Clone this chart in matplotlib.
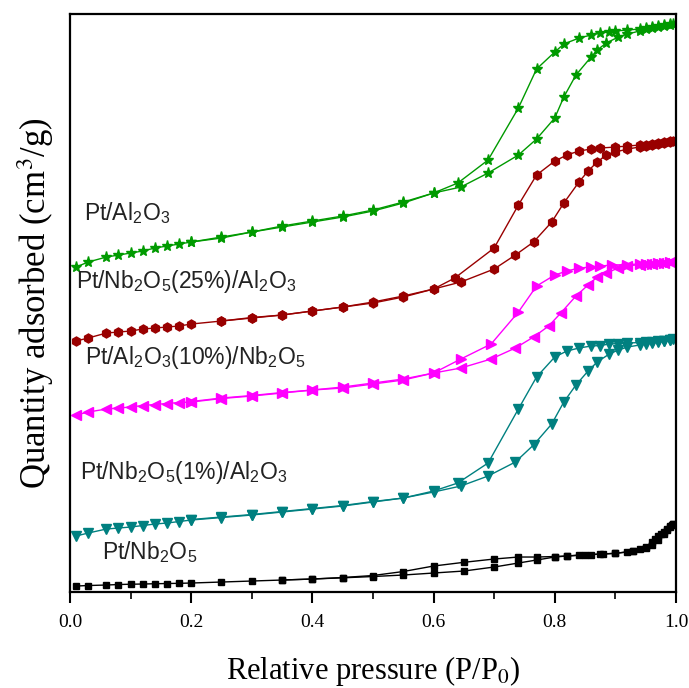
import matplotlib
matplotlib.use("Agg")
import matplotlib.pyplot as plt
from matplotlib.ticker import MultipleLocator

plt.rcParams['mathtext.fontset'] = 'custom'
plt.rcParams['mathtext.rm'] = 'Liberation Sans'
plt.rcParams['mathtext.it'] = 'Liberation Sans'

# relative pressure / quantity adsorbed (curves offset, arbitrary units)
green_ads_p = [0.01, 0.03, 0.06, 0.08, 0.10, 0.12, 0.14, 0.16, 0.18, 0.20, 0.25, 0.30, 0.35,
               0.40, 0.45, 0.50, 0.55, 0.60, 0.645, 0.69, 0.74, 0.77, 0.80, 0.815, 0.835,
               0.86, 0.87, 0.885, 0.905, 0.92, 0.94, 0.95, 0.96, 0.97, 0.98, 0.99, 0.995]
green_ads_q = [325, 330, 335, 337, 339, 341, 344, 346, 348, 350, 354, 360, 365,
               370, 375, 381, 389, 399, 405, 419, 437, 453, 474, 495, 517,
               535, 542, 549, 555, 558, 561, 563, 564, 565, 566, 567, 568]
green_des_p = [0.99, 0.98, 0.97, 0.96, 0.95, 0.94, 0.92, 0.90, 0.89, 0.875, 0.86, 0.84, 0.815,
               0.80, 0.77, 0.74, 0.69, 0.64, 0.60, 0.55, 0.50, 0.45, 0.40, 0.35, 0.30, 0.25, 0.20]
green_des_q = [568, 567, 566, 565, 564, 563, 562, 561, 560, 559, 557, 554, 548,
               540, 523, 484, 432, 409, 399, 390, 382, 376, 371, 366, 360, 355, 350]

red_ads_p = [0.01, 0.03, 0.06, 0.08, 0.10, 0.12, 0.14, 0.16, 0.18, 0.20, 0.25, 0.30, 0.35,
             0.40, 0.45, 0.50, 0.55, 0.60, 0.645, 0.70, 0.735, 0.765, 0.795, 0.815, 0.84,
             0.855, 0.87, 0.885, 0.90, 0.92, 0.94, 0.95, 0.96, 0.97, 0.98, 0.99, 0.995]
red_ads_q = [251, 254, 259, 260, 261, 263, 264, 265, 266, 268, 271, 274, 277,
             281, 285, 289, 295, 303, 310, 323, 337, 350, 370, 389, 410,
             421, 430, 437, 440, 443, 445, 446, 447, 448, 449, 450, 451]
red_des_p = [0.99, 0.98, 0.97, 0.96, 0.95, 0.94, 0.92, 0.90, 0.875, 0.86, 0.84, 0.82, 0.80,
             0.77, 0.74, 0.70, 0.635, 0.60, 0.55, 0.50, 0.45, 0.40, 0.35, 0.30, 0.25]
red_des_q = [451, 450, 449, 448, 447.5, 447, 446, 445, 444, 443, 441, 437, 431,
             417, 387, 344, 314, 303, 296, 290, 285, 281, 277, 274.5, 271]

mag_ads_p = [0.01, 0.03, 0.06, 0.08, 0.10, 0.12, 0.14, 0.16, 0.18, 0.20, 0.25, 0.30, 0.35,
             0.40, 0.45, 0.50, 0.55, 0.60, 0.645, 0.695, 0.735, 0.765, 0.79, 0.81, 0.835,
             0.855, 0.87, 0.885, 0.905, 0.92, 0.94, 0.95, 0.96, 0.97, 0.98, 0.99, 0.995]
mag_ads_q = [177, 180, 183, 184, 185, 186.5, 187.5, 188.5, 189.5, 190, 193.5, 196, 199,
             202, 204, 208, 212, 219, 224, 233, 244, 255, 266, 279, 296,
             307, 315, 319, 324, 326, 327.5, 328, 328.5, 329, 329.5, 330, 330.5]
mag_des_p = [0.99, 0.98, 0.97, 0.96, 0.95, 0.94, 0.92, 0.895, 0.875, 0.86, 0.84, 0.82, 0.80,
             0.77, 0.74, 0.695, 0.645, 0.60, 0.55, 0.50, 0.45, 0.40, 0.35, 0.30, 0.25, 0.20]
mag_des_q = [330, 329.5, 329, 328.5, 328, 328, 327.5, 327, 326, 325, 324, 321, 317,
             306, 280, 248, 233, 219, 213, 209, 205, 202, 199.5, 196.5, 194, 190.5]

teal_ads_p = [0.01, 0.03, 0.06, 0.08, 0.10, 0.12, 0.14, 0.16, 0.18, 0.20, 0.25, 0.30, 0.35,
              0.40, 0.45, 0.50, 0.55, 0.60, 0.645, 0.69, 0.735, 0.765, 0.795, 0.815, 0.835,
              0.855, 0.87, 0.89, 0.905, 0.92, 0.94, 0.95, 0.96, 0.97, 0.98, 0.99, 0.995]
teal_ads_q = [56, 59, 63, 64, 65, 66.5, 68, 69, 70.5, 72, 74.5, 77, 80,
              83, 86, 90, 94, 100, 106, 116, 130, 147, 168, 190, 207,
              221, 230, 238, 242, 245, 247, 248, 249, 250, 251, 252, 253]
teal_des_p = [0.99, 0.98, 0.97, 0.96, 0.95, 0.94, 0.92, 0.905, 0.89, 0.875, 0.86, 0.84, 0.82,
              0.80, 0.77, 0.74, 0.69, 0.64, 0.60, 0.55, 0.50, 0.45, 0.40, 0.35, 0.30, 0.25, 0.20]
teal_des_q = [252, 251.5, 251, 250.5, 250, 249.5, 249, 248.5, 248, 246.5, 246, 244, 241,
              235, 215, 183, 129, 109, 101, 94, 90.5, 86.5, 83.5, 80.5, 77.5, 75, 72.5]

black_ads_p = [0.01, 0.03, 0.06, 0.08, 0.10, 0.12, 0.14, 0.16, 0.18, 0.20, 0.25, 0.30, 0.35,
               0.40, 0.45, 0.50, 0.55, 0.60, 0.65, 0.70, 0.74, 0.77, 0.80, 0.82, 0.84, 0.86,
               0.88, 0.90, 0.92, 0.93, 0.94, 0.95, 0.96, 0.965, 0.97, 0.975, 0.98, 0.985,
               0.99, 0.993, 0.995]
black_ads_q = [6, 6.5, 7, 7.5, 7.8, 8, 8.3, 8.5, 8.7, 9, 10, 11, 12,
               13, 14.2, 15.5, 17, 19, 21, 25, 29, 32, 35, 36, 37, 37.5,
               38, 38.7, 40, 41, 43, 45, 50, 53, 56, 58, 60, 63,
               65, 67, 68]
black_des_p = [0.995, 0.99, 0.985, 0.98, 0.97, 0.96, 0.95, 0.93, 0.90, 0.875, 0.85, 0.82,
               0.80, 0.77, 0.74, 0.70, 0.65, 0.60, 0.55, 0.50, 0.45, 0.40, 0.35]
black_des_q = [68, 66, 62, 58, 52, 47, 44, 41, 38.7, 38, 37, 36,
               35.5, 35, 35, 33, 29.7, 26, 20.5, 16.5, 14.5, 13, 12]

labels = ['Pt/Al$_2$O$_3$', 'Pt/Nb$_2$O$_5$(25%)/Al$_2$O$_3$', 'Pt/Al$_2$O$_3$(10%)/Nb$_2$O$_5$',
          'Pt/Nb$_2$O$_5$(1%)/Al$_2$O$_3$', 'Pt/Nb$_2$O$_5$']

fig = plt.figure(figsize=(6.89, 6.88), dpi=100)
ax = fig.add_axes([0.1016, 0.1395, 0.8794, 0.8401])

ax.plot(green_ads_p, green_ads_q, color='#009a00', marker='*', ms=8, lw=1)
ax.plot(green_des_p, green_des_q, color='#009a00', marker='*', ms=8, lw=1)
ax.plot(red_ads_p, red_ads_q, color='#990000', marker='h', ms=6.5, lw=1)
ax.plot(red_des_p, red_des_q, color='#990000', marker='h', ms=6.5, lw=1)
ax.plot(mag_ads_p, mag_ads_q, color='#ff00ff', marker='<', ms=6.5, lw=1)
ax.plot(mag_des_p, mag_des_q, color='#ff00ff', marker='>', ms=6.5, lw=1)
ax.plot(teal_ads_p, teal_ads_q, color='#008080', marker='v', ms=6.5, lw=1)
ax.plot(teal_des_p, teal_des_q, color='#008080', marker='v', ms=6.5, lw=1)
ax.plot(black_ads_p, black_ads_q, color='black', marker='s', ms=5, lw=1)
ax.plot(black_des_p, black_des_q, color='black', marker='s', ms=5, lw=1)

label_pos = [(0.023, 379), (0.010, 311), (0.025, 235), (0.016, 120), (0.053, 40)]
for txt, (lx, ly) in zip(labels, label_pos):
    ax.text(lx, ly, txt, fontsize=16.5, family='Liberation Sans', color='#222222', va='center')

ax.set_xlim(0, 1.0)
ax.set_ylim(0, 578)
ax.xaxis.set_major_locator(MultipleLocator(0.2))
ax.xaxis.set_minor_locator(MultipleLocator(0.1))
ax.set_yticks([])
ax.tick_params(axis='x', which='major', direction='out', length=8, width=1.5,
               labelsize=14, pad=8)
ax.tick_params(axis='x', which='minor', direction='out', length=5, width=1.2)
for lab in ax.get_xticklabels():
    lab.set_fontfamily('Liberation Serif')
for s in ax.spines.values():
    s.set_linewidth(1.6)

ax.set_xlabel('Relative pressure (P/P$_0$)', fontsize=22, family='Liberation Serif',
              math_fontfamily='stix')
ax.xaxis.set_label_coords(0.5, -0.150)
ax.xaxis.label.set_va('baseline')
ax.set_ylabel('Quantity adsorbed (cm$^3$/g)', fontsize=25, family='Liberation Serif',
              labelpad=10, math_fontfamily='stix')

fig.savefig('out.png', dpi=100)
